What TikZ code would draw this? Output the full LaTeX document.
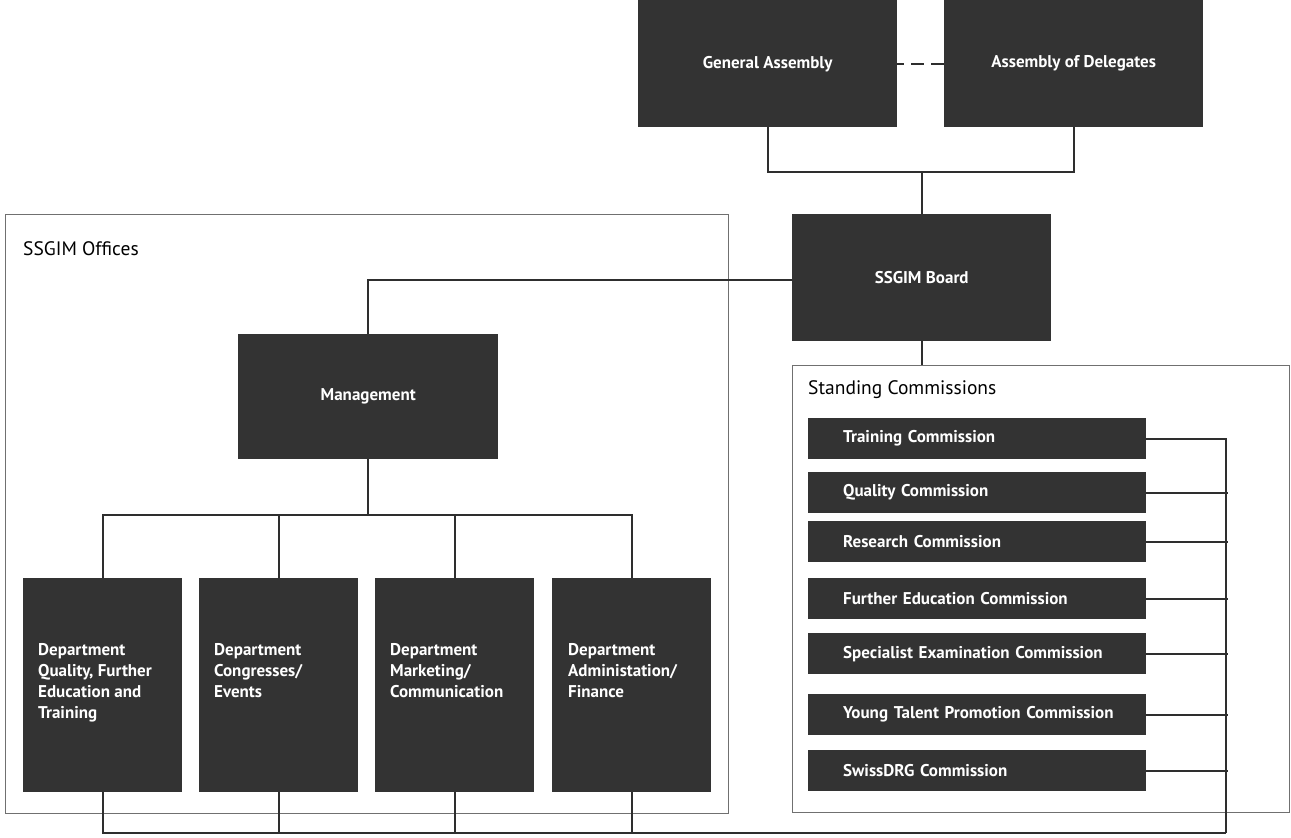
\documentclass[tikz,border=0pt]{standalone}
\usepackage{fontspec}
\setmainfont{PT Sans}
\definecolor{boxgray}{HTML}{333333}
\definecolor{linegray}{HTML}{2E2E2E}
\definecolor{framegray}{HTML}{707070}
\begin{document}
\begin{tikzpicture}[x=1pt,y=-1pt,
  dbox/.style={fill=boxgray,draw=none,text=white,font=\fontsize{17}{20}\selectfont\bfseries,inner sep=0pt,anchor=north west},
  cbox/.style={dbox,minimum height=41pt,text width=268pt,inner xsep=35pt,align=left},
  deptbox/.style={dbox,minimum width=159pt,minimum height=214pt},
  depttext/.style={anchor=north west,inner sep=0pt,text=white,align=left,font=\fontsize{17}{21}\selectfont\bfseries},
  frame/.style={draw=framegray,line width=1.3pt,anchor=north west,inner sep=0pt},
  ftitle/.style={anchor=west,inner sep=0pt,font=\fontsize{19.5}{22}\selectfont,text=black},
  conn/.style={draw=linegray,line width=2pt},
  dashconn/.style={conn,dash pattern=on 13pt off 7pt,dash phase=6pt}]
\useasboundingbox (0,0) rectangle (1291,838);

% frames
\node[frame,minimum width=723pt,minimum height=599pt] (offices) at (5,214) {};
\node[ftitle] (officesT) at (23,249) {SSGIM Offices};
\node[frame,minimum width=497pt,minimum height=447pt] (standing) at (792,365) {};
\node[ftitle] (standingT) at (808,390) {Standing Commissions};

% top boxes
\node[dbox,minimum width=259pt,minimum height=127pt] (ga) at (638,0) {General Assembly};
\node[dbox,minimum width=259pt,minimum height=127pt] (aod) at (944,0) {Assembly of Delegates};
\node[dbox,minimum width=259pt,minimum height=127pt] (board) at (792,214) {SSGIM Board};
\node[dbox,minimum width=260pt,minimum height=125pt] (mgmt) at (238,334) {Management};

% coordinates
\coordinate (j1) at (board.north |- 0,172);
\coordinate (j2) at (mgmt.south |- 0,515);
\coordinate (bus) at (1226,833);

% departments
\node[deptbox] (d1) at (23,578) {};
\node[deptbox] (d2) at (199,578) {};
\node[deptbox] (d3) at (375,578) {};
\node[deptbox] (d4) at (552,578) {};
\node[depttext] (d1t) at (38,643) {Department\\Quality, Further\\Education and\\Training};
\node[depttext] (d2t) at (214,643) {Department\\Congresses/\\Events};
\node[depttext] (d3t) at (390,643) {Department\\Marketing/\\Communication};
\node[depttext] (d4t) at (568,643) {Department\\Administation/\\Finance};

% commissions
\node[cbox] (c1) at (808,418) {Training Commission};
\node[cbox] (c2) at (808,472) {Quality Commission};
\node[cbox] (c3) at (808,521) {Research Commission};
\node[cbox] (c4) at (808,578) {Further Education Commission};
\node[cbox] (c5) at (808,633) {Specialist Examination Commission};
\node[cbox] (c6) at (808,694) {\mbox{Young Talent Promotion Commission}};
\node[cbox] (c7) at (808,750) {SwissDRG Commission};

% connectors
\draw[dashconn] (ga.east) -- (aod.west);
\draw[conn] (ga.south) |- (j1) -| (aod.south);
\draw[conn] (j1) -- (board.north);
\draw[conn] ([yshift=-2.5pt]board.west) -| (mgmt.north);
\draw[conn] (board.south) -- (board.south |- standing.north);
\draw[conn] (mgmt.south) -- (j2);
\draw[conn] (d1.north) |- (j2) -| (d4.north);
\draw[conn] (d2.north) -- (d2.north |- j2);
\draw[conn] (d3.north) -- (d3.north |- j2);
\draw[conn] (d1.south) |- (bus);
\draw[conn] (d2.south) -- (d2.south |- bus);
\draw[conn] (d3.south) -- (d3.south |- bus);
\draw[conn] (d4.south) -- (d4.south |- bus);
\draw[conn] (c1.east) -| (bus);
\foreach \c in {c2,c3,c4,c5,c6,c7} \draw[conn] (\c.east) -- ++(82,0);
\end{tikzpicture}
\end{document}
